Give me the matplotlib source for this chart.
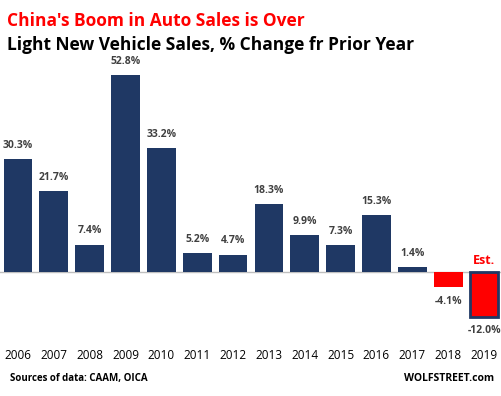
import matplotlib.pyplot as plt

# ------ data ------
years = ['2006', '2007', '2008', '2009', '2010', '2011', '2012',
         '2013', '2014', '2015', '2016', '2017', '2018', '2019']
change = [30.3, 21.7, 7.4, 52.8, 33.2, 5.2, 4.7, 18.3, 9.9, 7.3, 15.3, 1.4, -4.1, -12.0]
value_labels = ['30.3%', '21.7%', '7.4%', '52.8%', '33.2%', '5.2%', '4.7%',
                '18.3%', '9.9%', '7.3%', '15.3%', '1.4%', '-4.1%', '-12.0%']

plt.rcParams['font.family'] = ['Open Sans', 'DejaVu Sans']

navy = '#1f3864'
red = '#ff0000'

fig = plt.figure(figsize=(5.02, 3.96), dpi=100)
ax = fig.add_axes([0.0, 0.162, 1.0, 0.678])

x = range(len(years))
colors = [navy if v > 0 else red for v in change]
bars = ax.bar(x, change, width=0.8, color=colors, zorder=2)
# the estimate bar gets a navy outline
bars[-1].set_edgecolor(navy)
bars[-1].set_linewidth(2)

ax.axhline(0, color='#bfbfbf', lw=1, zorder=1)

for i, v in enumerate(change):
    if v >= 0:
        ax.text(i, v + 2.2, value_labels[i], ha='center', va='bottom',
                fontsize=7.5, fontweight='bold', color='#404040')
    else:
        ax.text(i, v - 2.2, value_labels[i], ha='center', va='top',
                fontsize=7.5, fontweight='bold', color='#404040')

ax.text(13, 1.3, 'Est.', ha='center', va='bottom', fontsize=9,
        fontweight='bold', color=red)

ax.set_xlim(-0.5, 13.5)
ax.set_ylim(-16, 56)
ax.axis('off')

for i, yr in enumerate(years):
    fig.text((i + 0.5) / 14, 0.103, yr, ha='center', va='center',
             fontsize=8.5, color='black')

fig.text(0.014, 0.947, "China's Boom in Auto Sales is Over", color=red,
         fontsize=12.5, fontweight='bold', va='center')
fig.text(0.014, 0.886, 'Light New Vehicle Sales, % Change fr Prior Year',
         color='black', fontsize=12.5, fontweight='bold', va='center')
fig.text(0.02, 0.045, 'Sources of data: CAAM, OICA', fontsize=7,
         fontweight='bold', va='center')
fig.text(0.985, 0.045, 'WOLFSTREET.com', fontsize=7.5,
         fontweight='bold', va='center', ha='right')

fig.savefig('out.png', dpi=100)
